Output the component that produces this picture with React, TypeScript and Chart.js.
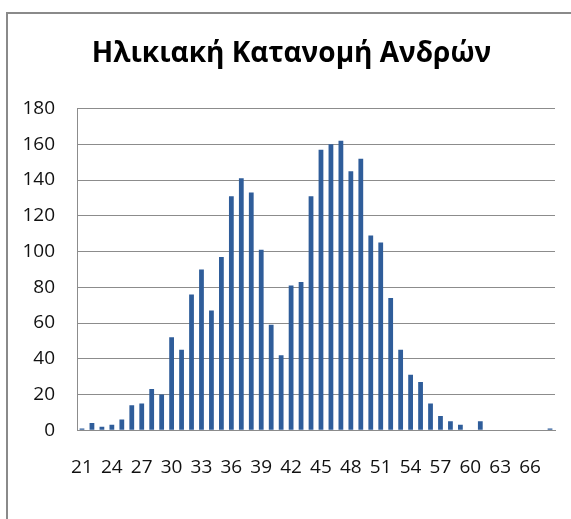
import React, { useEffect, useRef } from "react";
import { Chart, registerables } from "chart.js";

Chart.register(...registerables);

const ages: string[] = [
  "21","22","23","24","25","26","27","28","29","30",
  "31","32","33","34","35","36","37","38","39","40",
  "41","42","43","44","45","46","47","48","49","50",
  "51","52","53","54","55","56","57","58","59","60",
  "61","62","63","64","65","66","67","68",
];

const counts: number[] = [
  1, 4, 2, 3, 6, 14, 15, 23, 20, 52,
  45, 76, 90, 67, 97, 131, 141, 133, 101, 59,
  42, 81, 83, 131, 157, 160, 162, 145, 152, 109,
  105, 74, 45, 31, 27, 15, 8, 5, 3, 0,
  5, 0, 0, 0, 0, 0, 0, 1,
];

const titleText = "Ηλικιακή Κατανομή Ανδρών";
const yTicks = { min: 0, max: 180, step: 20 };

const centerTitle = {
  id: "centerTitle",
  afterLayout(chart: any) {
    const tb = chart.titleBlock;
    if (tb) {
      tb.left = 0;
      tb.right = chart.width;
      tb.width = chart.width;
    }
  },
};

export default function App() {
  const ref = useRef<HTMLCanvasElement | null>(null);

  useEffect(() => {
    if (!ref.current) return;
    const font = "'Open Sans', 'Noto Sans', sans-serif";
    const chart = new Chart(ref.current, {
      type: "bar",
      data: {
        labels: ages,
        datasets: [
          {
            data: counts,
            backgroundColor: "#2F5D9A",
            borderWidth: 0,
            barPercentage: 0.48,
            categoryPercentage: 1,
          },
        ],
      },
      plugins: [centerTitle],
      options: {
        animation: false,
        responsive: false,
        maintainAspectRatio: false,
        layout: { padding: { left: 0, right: 22, top: 0, bottom: 14 } },
        plugins: {
          legend: { display: false },
          tooltip: { enabled: false },
          title: {
            display: true,
            text: titleText,
            color: "#000",
            font: { family: font, size: 28, weight: "bold" },
            padding: { top: 24, bottom: 38 },
          },
        },
        scales: {
          x: {
            grid: { display: false, drawTicks: false },
            border: { display: true, color: "#8c8c8c", width: 1 },
            ticks: {
              autoSkip: false,
              maxRotation: 0,
              minRotation: 0,
              padding: 26,
              color: "#111",
              font: { family: font, size: 19 },
              callback: (_v: any, i: number) => (i % 3 === 0 ? ages[i] : ""),
            },
          },
          y: {
            min: yTicks.min,
            max: yTicks.max,
            afterFit: (s: any) => {
              s.width = 71;
            },
            grid: { color: "#8c8c8c", lineWidth: 1, drawTicks: false },
            border: { display: true, color: "#8c8c8c", width: 1 },
            ticks: {
              stepSize: yTicks.step,
              padding: 22,
              color: "#111",
              font: { family: font, size: 19 },
            },
          },
        },
      },
    });
    return () => chart.destroy();
  }, []);

  return (
    <div
      style={{
        position: "fixed",
        left: 0,
        top: 0,
        width: 571,
        height: 519,
        overflow: "hidden",
        background: "#fff",
      }}
    >
      <div
        style={{
          position: "absolute",
          left: 6,
          top: 12,
          width: 600,
          height: 600,
          borderLeft: "2px solid #8a8a8a",
          borderTop: "2px solid #8a8a8a",
        }}
      />
      <canvas
        ref={ref}
        width={571}
        height={506}
        style={{ position: "absolute", left: 6, top: 13, width: 571, height: 506 }}
      />
    </div>
  );
}
